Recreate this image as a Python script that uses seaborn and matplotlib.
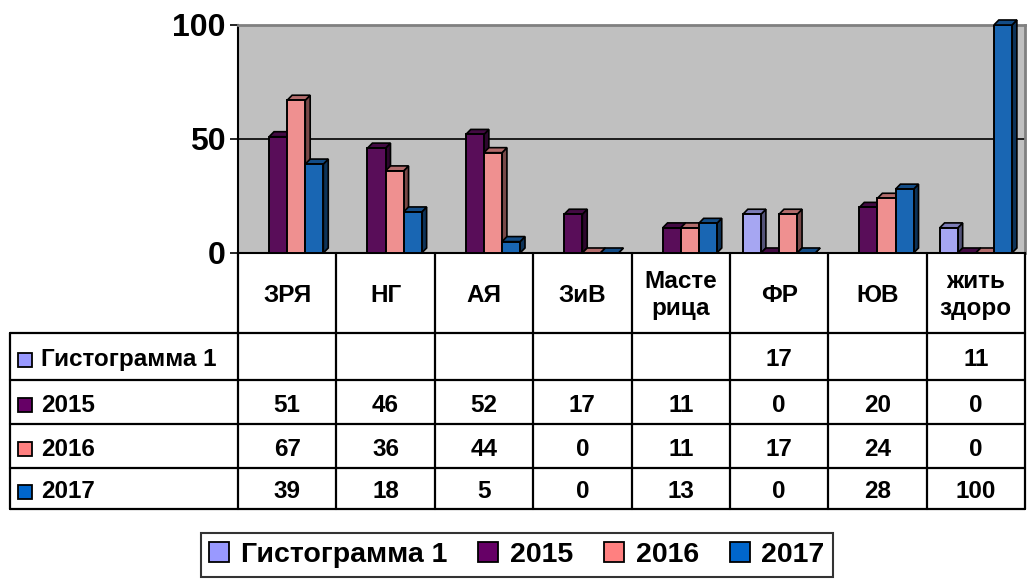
import numpy as np
import pandas as pd
import matplotlib
matplotlib.use("Agg")
import matplotlib.pyplot as plt
import seaborn as sns
from matplotlib.patches import Polygon, Patch
from matplotlib.colors import to_rgb

# ======== data ========
categories = ["ЗРЯ", "НГ", "АЯ", "ЗиВ", "Масте\nрица", "ФР", "ЮВ", "жить\nздоро"]
series = ["Гистограмма 1", "2015", "2016", "2017"]
hist1 = [np.nan, np.nan, np.nan, np.nan, np.nan, 17, np.nan, 11]
y2015 = [51, 46, 52, 17, 11, 0, 20, 0]
y2016 = [67, 36, 44, 0, 11, 17, 24, 0]
y2017 = [39, 18, 5, 0, 13, 0, 28, 100]
colors = ["#9999FF", "#660066", "#FF8080", "#0066CC"]
yticks = [0, 50, 100]

values = [hist1, y2015, y2016, y2017]
rows = []
for s, vals in zip(series, values):
    for c, v in zip(categories, vals):
        rows.append({"cat": c, "series": s, "val": v})
df = pd.DataFrame(rows)

sns.set_style("white")
plt.rcParams["font.family"] = ["Liberation Sans", "DejaVu Sans"]
plt.rcParams["font.weight"] = "bold"
plt.rcParams["text.color"] = "black"
plt.rcParams["ytick.color"] = "black"
plt.rcParams["ytick.labelcolor"] = "black"

W, H = 1027, 581
fig = plt.figure(figsize=(W / 100, H / 100), dpi=100)

# ======== bar axes (pixel layout of the original) ========
x_left, x_right = 238, 1025
y_zero, y_top = 253, 25
ax = fig.add_axes([x_left / W, 1 - y_zero / H, (x_right - x_left) / W, (y_zero - y_top) / H])
ax.set_facecolor("#C0C0C0")

sns.barplot(data=df.dropna(), x="cat", y="val", hue="series", hue_order=series,
            order=categories, palette=colors, width=0.735, gap=0,
            edgecolor="black", linewidth=1.4, ax=ax, legend=False, errorbar=None)

ax.set_xlim(-0.5, len(categories) - 0.5)
ax.set_ylim(0, 100)
ax.set_xlabel("")
ax.set_ylabel("")
ax.set_xticks([])
ax.set_yticks(yticks)
ax.set_yticklabels([str(t) for t in yticks], fontsize=23, fontweight="bold", color="black")
ax.tick_params(axis="y", direction="out", length=6, width=1.2, color="black", pad=3, left=True)
ax.yaxis.grid(True, color="black", lw=1.2)
ax.set_axisbelow(True)
for side in ["left", "bottom"]:
    ax.spines[side].set_color("black")
    ax.spines[side].set_linewidth(1.5)
for side in ["top", "right"]:
    ax.spines[side].set_color("#808080")
    ax.spines[side].set_linewidth(2)

# fake 3D depth: side and top faces for every bar
dx, dy = 0.05, 2.2
def shade(c, f):
    r, g, b = to_rgb(c)
    return (r * f, g * f, b * f)

for p in list(ax.patches):
    h = p.get_height()
    if np.isnan(h):
        continue
    x0, w = p.get_x(), p.get_width()
    fc = p.get_facecolor()
    p.set_zorder(4)
    side = Polygon([(x0 + w, 0), (x0 + w + dx, dy), (x0 + w + dx, h + dy), (x0 + w, h)],
                   closed=True, facecolor=shade(fc, 0.5), edgecolor="black", lw=1.2,
                   zorder=3, clip_on=False)
    top = Polygon([(x0, h), (x0 + dx, h + dy), (x0 + w + dx, h + dy), (x0 + w, h)],
                  closed=True, facecolor=shade(fc, 0.75), edgecolor="black", lw=1.2,
                  zorder=3, clip_on=False)
    ax.add_patch(side)
    ax.add_patch(top)

# ======== data table ========
tab = fig.add_axes([0, 0, 1, 1])
tab.set_xlim(0, W)
tab.set_ylim(H, 0)
tab.axis("off")
tab.patch.set_alpha(0)

fs = 17.5
col_w = (x_right - x_left) / len(categories)
row_edges = [333, 380, 424, 468, 509]
lc = dict(color="black", lw=1.6)
for i in range(len(categories) + 1):
    tab.plot([x_left + i * col_w] * 2, [y_zero, row_edges[-1]], **lc)
tab.plot([10, 10], [row_edges[0], row_edges[-1]], **lc)
for y in row_edges:
    tab.plot([10, x_right], [y, y], **lc)

for i, c in enumerate(categories):
    tab.text(x_left + (i + 0.5) * col_w, 295, c, ha="center", va="center",
             fontsize=fs, fontweight="bold", linespacing=1.25)

for r, (s, vals, col) in enumerate(zip(series, values, colors)):
    yc = (row_edges[r] + row_edges[r + 1]) / 2 + 3
    tab.add_patch(plt.Rectangle((18, yc - 7), 14, 14, facecolor=col, edgecolor="black", lw=1.3))
    tab.text(41, yc, s, ha="left", va="center", fontsize=fs, fontweight="bold")
    for i, v in enumerate(vals):
        if not np.isnan(v):
            tab.text(x_left + (i + 0.5) * col_w, yc, str(int(v)), ha="center", va="center",
                     fontsize=fs, fontweight="bold")

# ======== legend ========
handles = [Patch(facecolor=c, edgecolor="black", lw=1.3) for c in colors]
leg = fig.legend(handles, series, loc="center", bbox_to_anchor=(517 / W, 1 - 555 / H),
                 ncol=4, frameon=True, fancybox=False, edgecolor="black",
                 prop={"size": 20.5, "weight": "bold"}, handlelength=0.7, handleheight=0.7,
                 handletextpad=0.4, columnspacing=1.1, borderpad=0.3, borderaxespad=0)
leg.get_frame().set_linewidth(1.5)

fig.savefig("out.png", dpi=100)
